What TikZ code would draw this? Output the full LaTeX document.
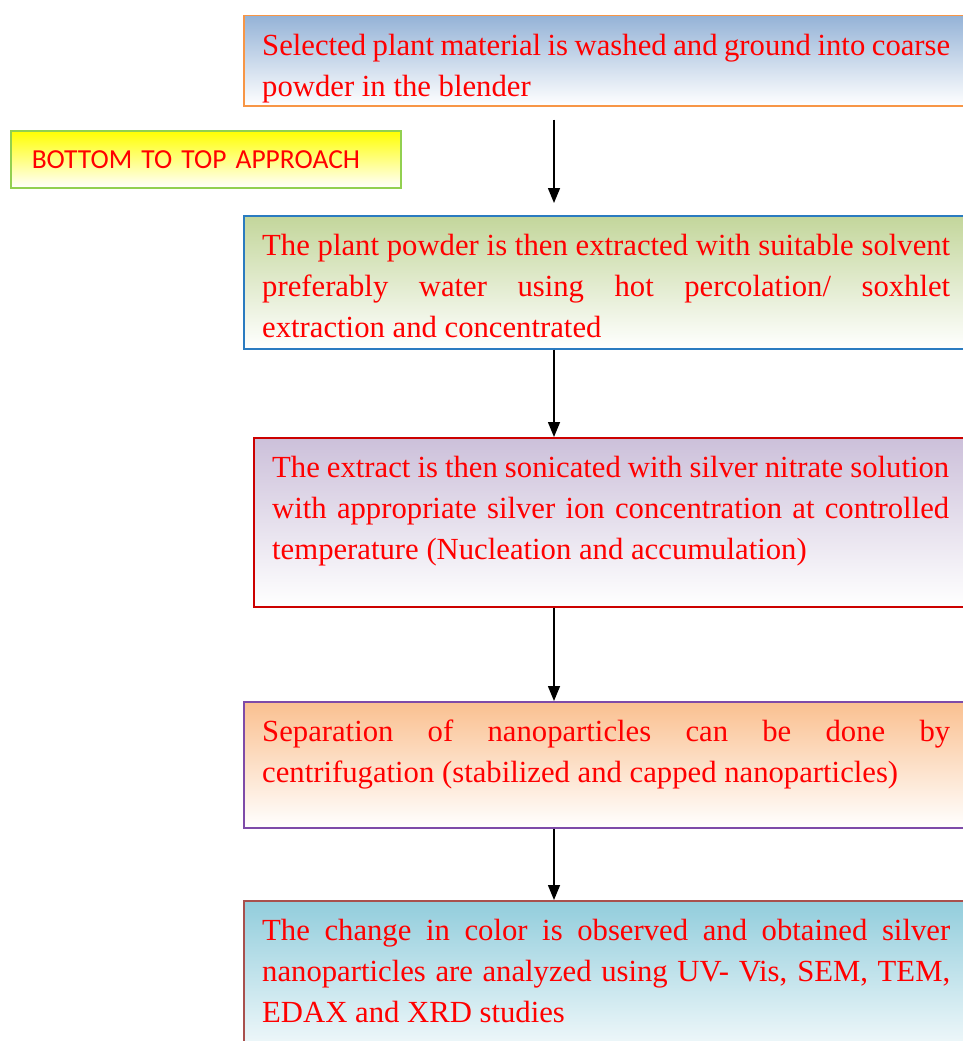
\documentclass[tikz,border=0pt]{standalone}
\usepackage{fontspec}
\setmainfont{Liberation Serif}
\newfontfamily\calibri{Carlito}
\usepackage{xcolor}
\usepackage{tikz}
\usetikzlibrary{arrows.meta, positioning}

\definecolor{textred}{HTML}{FF0000}
\definecolor{washline}{HTML}{F79646}
\definecolor{washfill}{HTML}{95B3D7}
\definecolor{noteline}{HTML}{92D050}
\definecolor{notefill}{HTML}{FFFF00}
\definecolor{extractline}{HTML}{2A7BC0}
\definecolor{extractfill}{HTML}{C3D69B}
\definecolor{soniline}{HTML}{CC0000}
\definecolor{sonifill}{HTML}{CCC0DA}
\definecolor{sepline}{HTML}{7E4BA8}
\definecolor{sepfill}{HTML}{FAC090}
\definecolor{testline}{HTML}{A8504D}
\definecolor{testfill}{HTML}{92CDDC}

\begin{document}
\begin{tikzpicture}[
      x=1pt, y=-1pt,
      stage/.style={draw, line width=1.5pt, anchor=north west, minimum width=760pt, inner sep=0pt, bottom color=white},
      words/.style={text=textred, font=\fontsize{30.7}{41}\selectfont, text width=688pt, align=justify, inner sep=0pt},
      flow/.style={-{Triangle[length=15pt, width=12pt]}, line width=1.5pt}
    ]
      \useasboundingbox (0,0) rectangle (963,1041);
      \clip (0,0) rectangle (963,1041);

      \node[stage, draw=washline, top color=washfill, minimum height=90pt] (wash) at (243,15) {};
      \node[stage, draw=extractline, top color=extractfill, minimum height=133pt] (extract) at (243,215) {};
      \node[stage, draw=soniline, top color=sonifill, minimum height=169pt] (sonicate) at (253,437) {};
      \node[stage, draw=sepline, top color=sepfill, minimum height=126pt] (separate) at (243,701) {};
      \node[stage, draw=testline, top color=testfill, minimum height=170pt] (analyse) at (243,900) {};

      \node[words, below right=11.5pt and 19pt of wash.north west] (washtext)
        {\strut Selected plant material is washed and ground into coarse\linebreak powder in the blender};
      \node[words, below right=11.5pt and 19pt of extract.north west] (extracttext)
        {\strut The plant powder is then extracted with suitable solvent\linebreak preferably water using hot percolation/ soxhlet\linebreak extraction and concentrated};
      \node[words, text width=677pt, below right=11.5pt and 19pt of sonicate.north west] (sonicatetext)
        {\strut The extract is then sonicated with silver nitrate solution\linebreak with appropriate silver ion concentration at controlled\linebreak temperature (Nucleation and accumulation)};
      \node[words, below right=11.5pt and 19pt of separate.north west] (separatetext)
        {\strut Separation of nanoparticles can be done by\linebreak centrifugation (stabilized and capped nanoparticles)};
      \node[words, below right=11.5pt and 19pt of analyse.north west] (analysetext)
        {\strut The change in color is observed and obtained silver\linebreak nanoparticles are analyzed using UV- Vis, SEM, TEM,\linebreak EDAX and XRD studies};

      \node[draw=noteline, line width=1.5pt, top color=notefill, bottom color=white, anchor=north west,
            minimum height=57pt, text width=348pt, inner xsep=21pt, align=left,
            text=textred, font=\calibri\fontsize{27.5}{34}\selectfont] (approach) at (10,130) {BOTTOM TO TOP APPROACH};

      \coordinate (spine) at (554,0);
      \draw[flow, shorten <=13pt, shorten >=12pt] (wash.south -| spine) -- (extract.north -| spine);
      \draw[flow] (extract.south -| spine) -- (sonicate.north -| spine);
      \draw[flow] (sonicate.south -| spine) -- (separate.north -| spine);
      \draw[flow] (separate.south -| spine) -- (analyse.north -| spine);
    \end{tikzpicture}
\end{document}
